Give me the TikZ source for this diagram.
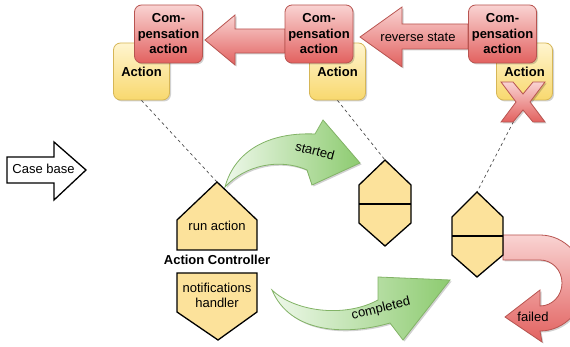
\documentclass[tikz,border=0pt]{standalone}
\usepackage{fontspec}
\setmainfont{Liberation Sans}
\usetikzlibrary{shadows}
\definecolor{redline}{HTML}{B85450}
\definecolor{redlight}{HTML}{F9D3D2}
\definecolor{reddark}{HTML}{E2615F}
\definecolor{yelline}{HTML}{D6B656}
\definecolor{yellight}{HTML}{FFF5CF}
\definecolor{yeldark}{HTML}{F8D86E}
\definecolor{greenline}{HTML}{82B366}
\definecolor{greenlight}{HTML}{EEF8EA}
\definecolor{greendark}{HTML}{8DCB70}
\definecolor{ctrlfill}{HTML}{FCE29B}

\begin{document}
\begin{tikzpicture}[x=1pt,y=-1pt,
  font=\fontsize{13}{15.5}\selectfont,
  softshadow/.style={drop shadow={shadow xshift=1.5pt,shadow yshift=-1.5pt,opacity=0.18,fill=black}},
  actbox/.style={draw=yelline, line width=0.8pt, rounded corners=7pt, top color=yellight, bottom color=yeldark,
    minimum width=56pt, minimum height=57pt, inner sep=0pt, font=\fontsize{13}{15.5}\selectfont\bfseries, softshadow},
  compbox/.style={draw=redline, line width=0.8pt, rounded corners=7pt, top color=redlight, bottom color=reddark,
    minimum width=68pt, minimum height=58pt, inner sep=0pt, align=center, font=\fontsize{13}{15.5}\selectfont\bfseries, softshadow},
  bigarrow/.style={draw=redline, line width=0.8pt, top color=redlight, bottom color=reddark, softshadow},
  greenarrow/.style={draw=greenline, line width=0.8pt, left color=greenlight, right color=greendark, softshadow},
  yelshape/.style={draw=black, fill=ctrlfill, line width=1.3pt, line join=miter},
  tether/.style={draw=gray!60!black, line width=0.7pt, dash pattern=on 3pt off 3pt},
  txt/.style={inner sep=0pt}
]
\useasboundingbox (0,0) rectangle (570,347);
\clip (0,0) rectangle (570,347);

% actions
\node[actbox] (act1) at (141.5,71.5) {Action};
\node[actbox] (act2) at (337.5,71.5) {Action};
\node[actbox] (act3) at (524.5,71.5) {Action};

% compensation arrows (block arrows pointing left)
\draw[bigarrow] (285,29) -- (235,29) -- (235,15) -- (205,40) -- (235,65) -- (235,53) -- (285,53) -- cycle;
\draw[bigarrow] (468,24) -- (402,24) -- (402,7) -- (360,37) -- (402,67) -- (402,49) -- (468,49) -- cycle;
\node[txt] (rev) at (418,37) {reverse state};

% compensation actions
\node[compbox] (comp1) at (168.5,34) {Com-\\pensation\\action};
\node[compbox] (comp2) at (319,34) {Com-\\pensation\\action};
\node[compbox] (comp3) at (502.5,34) {Com-\\pensation\\action};

% anchor points of the controller and the two tokens
\coordinate (ctrltop) at (217,182);
\coordinate (tokAtop) at (385,160);
\coordinate (tokBtop) at (477,192);

% tethers from actions
\draw[tether] (act1.south) -- (ctrltop);
\draw[tether] (act2.south) -- (tokAtop);
\draw[tether] (act3.south) -- (tokBtop);

% failure cross
\draw[draw=redline, line width=0.8pt, top color=redlight, bottom color=reddark, softshadow]
  (501,82) -- (513,82) -- (523,94) -- (533,82) -- (545,82) -- (530,102) -- (545,122) -- (533,122)
  -- (523,110) -- (513,122) -- (501,122) -- (516,102) -- cycle;

% case base input
\draw[draw=black, fill=white, line width=1.3pt, line join=miter]
  (7,157) -- (54,157) -- (54,142) -- (86,170) -- (54,200) -- (54,183) -- (7,183) -- cycle;
\node[txt] (casebase) at (43.5,169) {Case base};

% started / completed notifications
\draw[greenarrow] (225,187) .. controls (235,150) and (270,132) .. (315,134)
  -- (323,120) -- (360,163) -- (312,185) -- (307,170)
  .. controls (280,158) and (245,165) .. (225,187) -- cycle;
\node[txt, rotate=-15] (started) at (315,151) {started};

\draw[greenarrow] (272,290) .. controls (295,312) and (345,318) .. (378,300)
  -- (378,277) -- (450,280) -- (403,340) -- (390,323)
  .. controls (345,336) and (290,333) .. (272,290) -- cycle;
\node[txt, rotate=14] (completed) at (381,309) {completed};

% failed notification (U-turn)
\draw[bigarrow] (503,235) -- (540,235)
  .. controls (565,235) and (585,257) .. (585,283)
  .. controls (585,309) and (565,331) .. (540,331)
  -- (542,342) -- (505,317) -- (540,290) -- (540,306)
  .. controls (552,306) and (562,296) .. (562,283)
  .. controls (562,270) and (552,260) .. (540,260)
  -- (503,260) -- cycle;
\node[txt] (failed) at (533,317) {failed};

% action controller
\draw[yelshape] (ctrltop) -- (257,220) -- (257,250) -- (177,250) -- (177,220) -- cycle;
\node[txt] (runact) at (217,226) {run action};
\node[txt, font=\fontsize{13}{15.5}\selectfont\bfseries] (ctrl) at (217,260) {Action Controller};
\draw[yelshape] (177,273) -- (257,273) -- (257,312) -- (218,340) -- (177,312) -- cycle;
\node[txt, align=center] (notif) at (217,295.5) {notifications\\handler};

% action tokens
\draw[yelshape] (tokAtop) -- (411,185) -- (411,223) -- (385,246) -- (359,223) -- (359,185) -- cycle;
\draw[yelshape] (359,204) -- (411,204);
\draw[yelshape] (tokBtop) -- (503,217) -- (503,255) -- (477,277) -- (452,255) -- (452,217) -- cycle;
\draw[yelshape] (452,236) -- (503,236);
\end{tikzpicture}
\end{document}
